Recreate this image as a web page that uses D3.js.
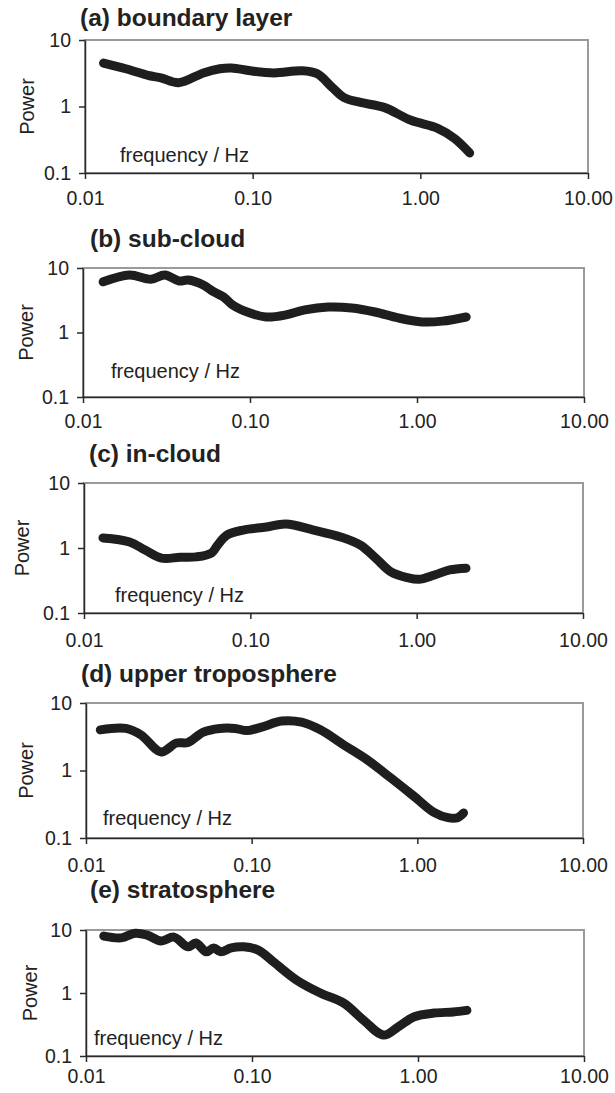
<!DOCTYPE html>
<html>
<head>
<meta charset="utf-8">
<script src="https://cdn.jsdelivr.net/npm/d3@7"></script>
<style>
    body { margin: 0; background: #fff; }
    svg { display: block; font-family: "Liberation Sans", Arial, sans-serif; }
    .frame { fill: none; stroke: #9a9a9a; stroke-width: 2; }
    .axis path, .axis line { stroke: #2a2a2a; stroke-width: 1.5; }
    .axis text { font-size: 19.5px; fill: #222; font-family: "Liberation Sans", Arial, sans-serif; }
    .title { font-size: 24.5px; font-weight: bold; fill: #222; }
    .label { font-size: 20px; fill: #222; }
    .curve { fill: none; stroke: #1e1e1e; stroke-width: 9; stroke-linecap: round; stroke-linejoin: round; }
</style>
</head>
<body>
<div id="chart"></div>
<script>
// ----- DATA ------------------------------------------------------------
const titles = ["(a) boundary layer", "(b) sub-cloud", "(c) in-cloud", "(d) upper troposphere", "(e) stratosphere"];

const xTicks = [0.01, 0.1, 1, 10];
const xTickLabels = ["0.01", "0.10", "1.00", "10.00"];
const yTicks = [0.1, 1, 10];
const yTickLabels = ["0.1", "1", "10"];

// (a) boundary layer
const freqA  = [0.0129, 0.0175, 0.0243, 0.0284, 0.0362, 0.0508, 0.0637, 0.0749, 0.097, 0.134, 0.197, 0.243, 0.299, 0.351, 0.44, 0.607, 0.88, 1.27, 1.6, 1.97];
const powerA = [4.5, 3.7, 2.9, 2.7, 2.28, 3.2, 3.7, 3.8, 3.44, 3.2, 3.44, 3.1, 1.92, 1.36, 1.15, 0.97, 0.62, 0.47, 0.33, 0.2];

// (b) sub-cloud
const freqB  = [0.0132, 0.019, 0.0255, 0.0309, 0.0376, 0.0426, 0.0525, 0.0608, 0.0695, 0.0787, 0.1, 0.125, 0.162, 0.213, 0.294, 0.406, 0.56, 0.773, 1.07, 1.42, 1.97];
const powerB = [6.1, 7.8, 6.7, 7.8, 6.3, 6.5, 5.45, 4.25, 3.55, 2.67, 2.0, 1.74, 1.86, 2.24, 2.48, 2.4, 2.08, 1.68, 1.46, 1.5, 1.74];

// (c) in-cloud
const freqC  = [0.013, 0.0188, 0.0233, 0.0292, 0.0378, 0.0474, 0.0585, 0.0636, 0.0723, 0.0906, 0.125, 0.163, 0.24, 0.349, 0.459, 0.567, 0.70, 0.88, 1.03, 1.28, 1.58, 1.98];
const powerC = [1.43, 1.24, 0.93, 0.70, 0.72, 0.73, 0.84, 1.11, 1.58, 1.89, 2.1, 2.34, 1.89, 1.48, 1.11, 0.70, 0.43, 0.35, 0.33, 0.385, 0.46, 0.49];

// (d) upper troposphere
const freqD  = [0.0122, 0.0174, 0.0215, 0.0284, 0.0351, 0.0412, 0.0511, 0.0642, 0.0794, 0.0935, 0.115, 0.152, 0.2, 0.26, 0.36, 0.5, 0.69, 0.96, 1.26, 1.53, 1.75, 1.9];
const powerD = [4.0, 4.2, 3.36, 1.88, 2.55, 2.6, 3.7, 4.2, 4.2, 3.9, 4.4, 5.4, 5.2, 4.0, 2.39, 1.43, 0.78, 0.41, 0.24, 0.2, 0.2, 0.235];

// (e) stratosphere
const freqE  = [0.0128, 0.0163, 0.0198, 0.0233, 0.0283, 0.0339, 0.0411, 0.0459, 0.0531, 0.0588, 0.0648, 0.075, 0.0895, 0.109, 0.135, 0.186, 0.258, 0.357, 0.47, 0.62, 0.76, 0.95, 1.25, 1.63, 1.97];
const powerE = [8.0, 7.5, 8.9, 8.3, 6.7, 7.7, 5.4, 6.2, 4.5, 5.2, 4.5, 5.2, 5.4, 4.8, 3.1, 1.6, 1.0, 0.69, 0.37, 0.215, 0.29, 0.42, 0.48, 0.5, 0.53];

const freqs  = [freqA, freqB, freqC, freqD, freqE];
const powers = [powerA, powerB, powerC, powerD, powerE];

// ----- LAYOUT ----------------------------------------------------------
const width = 615, height = 1093;

// plot box + label placement for each panel
const panels = [
    { top: 40,  bottom: 173,  left: 85, right: 588, tickPad: 12, titleX: 80, titleY: 26,  freqX: 120, freqY: 162,  powerX: 27 },
    { top: 268, bottom: 397,  left: 83, right: 584, tickPad: 11, titleX: 90, titleY: 247, freqX: 111, freqY: 378,  powerX: 26 },
    { top: 483, bottom: 613,  left: 84, right: 583, tickPad: 14, titleX: 89, titleY: 462, freqX: 115, freqY: 602,  powerX: 22 },
    { top: 703, bottom: 838,  left: 86, right: 583, tickPad: 14, titleX: 81, titleY: 682, freqX: 103, freqY: 825,  powerX: 26 },
    { top: 930, bottom: 1056, left: 86, right: 584, tickPad: 7,  titleX: 90, titleY: 898, freqX: 94,  freqY: 1045, powerX: 30 }
];

let svg = d3.select("#chart").append("svg")
            .attr("width", width)
            .attr("height", height);

svg.append("rect")
    .attr("width", width)
    .attr("height", height)
    .attr("fill", "#fff");

function _drawPanel( p, i )
{
    const x = d3.scaleLog().domain([0.01, 10]).range([p.left, p.right]);
    const y = d3.scaleLog().domain([0.1, 10]).range([p.bottom, p.top]);

    let g = svg.append("g").classed("panel", true);

    // grey frame (top & right), dark axes drawn over it
    g.append("rect")
        .classed("frame", true)
        .attr("x", p.left)
        .attr("y", p.top)
        .attr("width", p.right - p.left)
        .attr("height", p.bottom - p.top);

    g.append("g")
        .classed("axis", true)
        .attr("transform", "translate(0," + p.bottom + ")")
        .call(d3.axisBottom(x)
            .tickValues(xTicks)
            .tickFormat((d, j) => xTickLabels[j])
            .tickSizeOuter(0)
            .tickSizeInner(6)
            .tickPadding(p.tickPad));

    g.append("g")
        .classed("axis", true)
        .attr("transform", "translate(" + p.left + ",0)")
        .call(d3.axisLeft(y)
            .tickValues(yTicks)
            .tickFormat((d, j) => yTickLabels[j])
            .tickSizeOuter(0)
            .tickSizeInner(6)
            .tickPadding(8));

    // spectrum curve
    const line = d3.line()
        .x(d => x(d[0]))
        .y(d => y(d[1]))
        .curve(d3.curveCatmullRom.alpha(0.5));

    g.append("path")
        .classed("curve", true)
        .attr("d", line( d3.zip(freqs[i], powers[i]) ));

    // texts
    g.append("text")
        .classed("title", true)
        .attr("x", p.titleX)
        .attr("y", p.titleY)
        .text(titles[i]);

    g.append("text")
        .classed("label", true)
        .attr("x", p.freqX)
        .attr("y", p.freqY)
        .text("frequency / Hz");

    g.append("text")
        .classed("label", true)
        .attr("text-anchor", "middle")
        .attr("transform", "translate(" + (p.powerX + 7) + "," + ((p.top + p.bottom) / 2) + ") rotate(-90)")
        .text("Power");
}

panels.forEach(_drawPanel);
</script>
</body>
</html>
